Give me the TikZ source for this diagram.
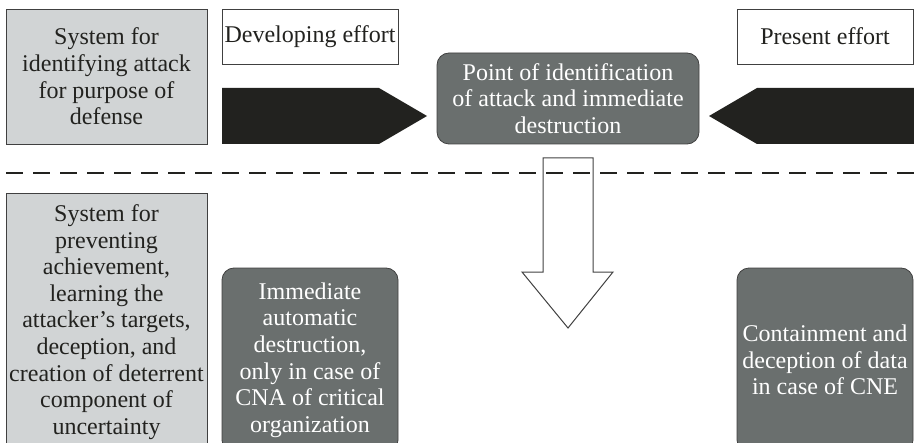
\documentclass[tikz,border=0pt]{standalone}
\usepackage{fontspec}
\setmainfont{Liberation Serif}
\definecolor{sysgray}{HTML}{D1D4D5}
\definecolor{actgray}{HTML}{6A6F6E}
\definecolor{arrowblack}{HTML}{22221F}

\begin{document}
\begin{tikzpicture}[
  x=0.5pt, y=-0.5pt,
  font=\fontsize{12}{13.3}\selectfont,
  sysbox/.style={draw=black!75, fill=sysgray, text=arrowblack, align=center,
                 inner sep=1pt, minimum width=100.5pt},
  effortbox/.style={draw=black!75, fill=white, text=arrowblack, align=center,
                    inner sep=1pt, minimum width=88pt, minimum height=27.5pt},
  actbox/.style={draw=black!75, fill=actgray, text=white, rounded corners=6pt,
                 align=center, inner sep=1pt},
  blockarrow/.style={fill=arrowblack},
  hollowarrow/.style={draw=black!75, line width=0.5pt},
  divider/.style={draw=arrowblack, line width=1pt, dash pattern=on 8.5pt off 5pt}
]
\useasboundingbox (0,0) rectangle (914,443);
\node[sysbox, minimum height=67.5pt] (sysdef) at (106.5,76.5)
  {System for\\ identifying attack\\ for purpose of\\ defense};
\node[effortbox] (develop) at (310,36.5) {Developing effort};
\node[effortbox] (present) at (825,36.5) {Present effort};
\node[actbox, minimum width=131pt, minimum height=45.5pt] (point) at (568,98.5)
  {Point of identification\\ of attack and immediate\\ destruction};
\fill[blockarrow] (222,88) -- (379,88) -- (427,116) -- (379,144) -- (222,144) -- cycle;
\fill[blockarrow] (914,88) -- (757,88) -- (709,116) -- (757,144) -- (914,144) -- cycle;
\draw[divider] (6,173) -- (914,173);
\draw[hollowarrow] (543,158) -- (593,158) -- (593,272) -- (613,272) -- (568,328)
  -- (522,272) -- (543,272) -- cycle;
\node[sysbox, minimum height=129pt] (sysprev) at (106.5,322)
  {System for\\ preventing\\ achievement,\\ learning the\\ attacker’s targets,\\
   deception, and\\ creation of deterrent\\ component of\\ uncertainty};
\node[actbox, minimum width=88pt, minimum height=92pt] (immed) at (310,360)
  {Immediate\\ automatic\\ destruction,\\ only in case of\\ CNA of critical\\ organization};
\node[actbox, minimum width=88pt, minimum height=92pt] (contain) at (825,360)
  {Containment and\\ deception of data\\ in case of CNE};
\end{tikzpicture}
\end{document}
